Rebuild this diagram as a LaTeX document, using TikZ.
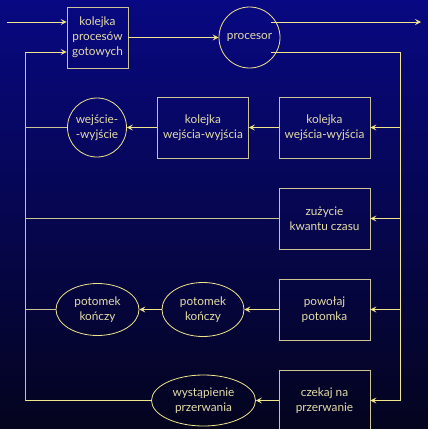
\documentclass[tikz,border=0pt]{standalone}
\usepackage{fontspec}
\setmainfont{Lato}
\usetikzlibrary{arrows.meta,shapes.geometric}
\definecolor{bgtop}{RGB}{8,8,130}
\definecolor{bgbot}{RGB}{4,4,30}
\definecolor{ln}{RGB}{240,228,140}
\definecolor{bx}{RGB}{205,196,150}
\definecolor{tx}{RGB}{228,220,170}
\begin{document}
\begin{tikzpicture}[x=1pt,y=-1pt,
  every node/.style={font=\fontsize{11.8}{15}\selectfont, text=tx, align=center, inner sep=0pt},
  boxn/.style={draw=bx, line width=0.8pt, rectangle, minimum width=91pt, minimum height=61pt},
  circn/.style={draw=ln, line width=0.8pt, circle, minimum size=61pt},
  ellip/.style={draw=ln, line width=0.8pt, ellipse},
  conn/.style={draw=ln, line width=0.8pt, -{Stealth[length=6pt,width=6pt,inset=2.5pt]}},
  plain/.style={draw=bx, line width=0.8pt}]
\shade[top color=bgtop, bottom color=bgbot] (0,0) rectangle (428,429);
\useasboundingbox (0,0) rectangle (428,429);
% nodes
\node[boxn, minimum width=61pt] (kpg) at (97.5,37.5) {kolejka\\procesów\\gotowych};
\node[circn] (proc) at (249.5,37.5) {procesor};
\node[boxn] (kww1) at (324.5,127.5) {kolejka\\wejścia-wyjścia};
\node[boxn] (kww2) at (203,127.5) {kolejka\\wejścia-wyjścia};
\node[circn, minimum size=59pt] (ww) at (97,127.5) {wejście-\\-wyjście};
\node[boxn] (zkc) at (324.5,218.5) {zużycie\\kwantu czasu};
\node[boxn] (pp) at (324.5,309.5) {powołaj\\potomka};
\node[ellip, minimum width=82pt, minimum height=54pt] (pk2) at (203,309.5) {potomek\\kończy};
\node[ellip, minimum width=83pt, minimum height=52pt] (pk1) at (97.5,309.5) {potomek\\kończy};
\node[boxn] (cnp) at (324.5,400.5) {czekaj na\\przerwanie};
\node[ellip, minimum width=104pt, minimum height=51pt] (wp) at (203.5,400.5) {wystąpienie\\przerwania};
% coordinates
\coordinate (in) at (7,22);
\coordinate (out) at (421,22);
\coordinate (rt) at (400,52);
\coordinate (rb) at (400,400.5);
\coordinate (lt) at (25,52);
\coordinate (lb) at (25,400.5);
% connectors
\draw[conn] (in) -- (kpg.west |- in);
\draw[conn] (kpg.east) -- (proc.west);
\draw[conn] (proc.north east |- out) -- (out);
\draw[ln, line width=0.8pt] (proc.south east |- rt) -- (rt) -- (rb);
\draw[conn] (rt |- kww1) -- (kww1.east);
\draw[conn] (rt |- zkc) -- (zkc.east);
\draw[conn] (rt |- pp) -- (pp.east);
\draw[conn] (rb) -- (cnp.east);
\draw[conn] (kww1.west) -- (kww2.east);
\draw[conn] (kww2.west) -- (ww.east);
\draw[conn] (pp.west) -- (pk2.east);
\draw[conn] (pk2.west) -- (pk1.east);
\draw[conn] (cnp.west) -- (wp.east);
\draw[plain] (ww.west) -- (lt |- ww);
\draw[plain] (zkc.west) -- (lt |- zkc);
\draw[plain] (pk1.west) -- (lt |- pk1);
\draw[ln, line width=0.8pt] (wp.west) -- (lb);
\draw[plain] (lb) -- (lt);
\draw[conn] (lt) -- (kpg.west |- lt);
\end{tikzpicture}
\end{document}
